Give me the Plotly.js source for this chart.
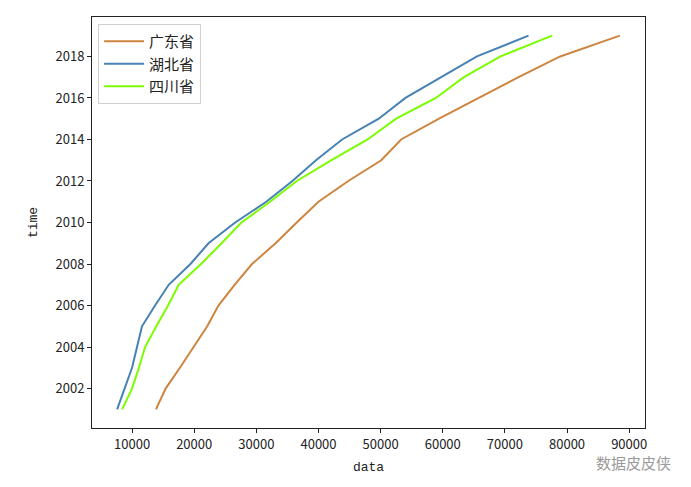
<!DOCTYPE html>
<html>
<head>
<meta charset="utf-8">
<script src="https://cdn.plot.ly/plotly-3.0.1.min.js"></script>
<style>html,body{margin:0;padding:0;background:#fff;}#chart{width:691px;height:487px;}</style>
</head>
<body>
<div id="chart"></div>
<script>
const years = [2001,2002,2003,2004,2005,2006,2007,2008,2009,2010,2011,2012,2013,2014,2015,2016,2017,2018,2019];
const guangdong = [13850,15400,17700,19900,22100,23900,26500,29300,33100,36500,40000,44800,50100,53300,59400,65800,72200,78900,88500];
const hubei = [7600,8800,10000,10800,11600,13700,15900,19400,22300,26600,31600,35800,39600,43800,49700,54000,59700,65500,73800];
const sichuan = [8400,10000,11100,12100,13900,15800,17500,21100,24400,27600,32200,36500,42100,47900,52500,58900,63400,69300,77600];
const seriesNames = ['广东省','湖北省','四川省'];
const xTicks = [10000,20000,30000,40000,50000,60000,70000,80000,90000];
const yTicks = [2002,2004,2006,2008,2010,2012,2014,2016,2018];

const font = "'Noto Sans CJK SC', 'DejaVu Sans', sans-serif";
const mono = "'Liberation Mono', 'DejaVu Sans Mono', monospace";
const colors = ['#CD853F','#4682B4','#7CFC00'];
const data = [guangdong, hubei, sichuan].map((xs, i) => ({
  x: xs, y: years, type: 'scatter', mode: 'lines', name: seriesNames[i],
  line: {color: colors[i], width: 2}
}));

const allX = guangdong.concat(hubei, sichuan);
const xmin = Math.min(...allX), xmax = Math.max(...allX);
const xpad = (xmax - xmin) * 0.05;
const ypad = (years[years.length-1] - years[0]) * 0.05;

const axisCommon = {
  showline: true, mirror: true, linecolor: '#222', linewidth: 1,
  ticks: 'outside', ticklen: 4, tickcolor: '#222', showgrid: false, zeroline: false,
  tickfont: {family: font, size: 13, color: '#222'}
};

const layout = {
  width: 691, height: 487,
  margin: {l: 92, r: 46, t: 17, b: 59},
  paper_bgcolor: '#fff', plot_bgcolor: '#fff',
  showlegend: true,
  legend: {x: 0.011, y: 0.983, xanchor: 'left', yanchor: 'top',
    bgcolor: 'rgba(255,255,255,0.8)', bordercolor: '#d0d0d0', borderwidth: 1,
    font: {family: font, size: 15, color: '#222'}, itemwidth: 40, tracegroupgap: 0},
  xaxis: Object.assign({}, axisCommon, {
    range: [xmin - xpad, xmax + xpad], tickvals: xTicks, ticktext: xTicks.map(String),
    title: {text: 'data', font: {family: mono, size: 13, color: '#222'}, standoff: 10}
  }),
  yaxis: Object.assign({}, axisCommon, {
    range: [years[0] - ypad, years[years.length-1] + ypad], tickvals: yTicks, ticktext: yTicks.map(String),
    title: {text: 'time', font: {family: mono, size: 13, color: '#222'}, standoff: 14}
  }),
  annotations: [{
    xref: 'paper', yref: 'paper', x: 1.05, y: -0.083, xanchor: 'right', yanchor: 'middle',
    text: '数据皮皮侠', showarrow: false, font: {family: font, size: 15, color: '#9a9a9a'}
  }]
};

Plotly.newPlot('chart', data, layout, {displayModeBar: false, staticPlot: true});
</script>
</body>
</html>
